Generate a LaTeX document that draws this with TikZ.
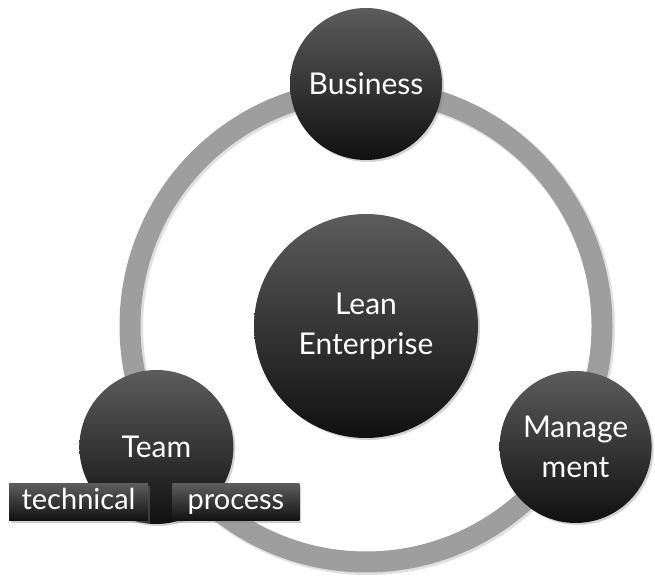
\documentclass[tikz,border=0pt]{standalone}
\usepackage{fontspec}
\setmainfont{Lato}
\usetikzlibrary{shadows,positioning}
\definecolor{ringgray}{RGB}{158,158,158}
\definecolor{balltop}{RGB}{92,92,92}
\definecolor{ballbot}{RGB}{16,16,16}

\begin{document}
\begin{tikzpicture}[x=1pt,y=1pt,
  ball/.style={circle, inner sep=0pt, top color=balltop, bottom color=ballbot,
    text=white, align=center, font=\fontsize{30}{40}\selectfont,
    drop shadow={opacity=0.35, shadow xshift=2pt, shadow yshift=-2pt}},
  tag/.style={rectangle, inner sep=0pt, minimum height=37pt,
    text height=21pt, text depth=6pt,
    top color=balltop, bottom color=ballbot, text=white,
    font=\fontsize{29}{32}\selectfont,
    drop shadow={opacity=0.4, shadow xshift=2pt, shadow yshift=-2pt}}]
\useasboundingbox (0,0) rectangle (655,577);
\coordinate (hub) at (366,251);
% ring behind the circles
\draw[line width=23pt, black!12] ([shift={(1.5pt,-1.5pt)}]hub) circle (236pt);
\draw[line width=21pt, ringgray] (hub) circle (236pt);

\node[ball, minimum size=224pt] (lean) at (hub) {Lean\\Enterprise};
\node[ball, minimum size=152pt] (business) at ([shift={(90:242pt)}]hub) {Business};
\node[ball, minimum size=154pt] (team) at ([shift={(210:242pt)}]hub) {Team};
\node[ball, minimum size=152pt] (mgmt) at ([shift={(330:242pt)}]hub) {Manage\\ment};

% labels under the team
\node[tag, minimum width=139pt] (tech) at (78.5,74.5) {technical};
\node[tag, minimum width=127pt, right=24pt of tech] (proc) {process};
\end{tikzpicture}
\end{document}
